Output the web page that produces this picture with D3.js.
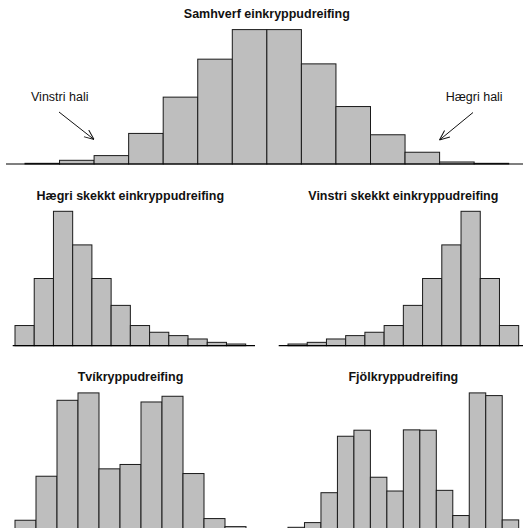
<!DOCTYPE html>
<html>
<head>
<meta charset="utf-8">
<script src="https://cdn.jsdelivr.net/npm/d3@7"></script>
<style>
  html, body { margin: 0; padding: 0; background: #fff; }
  svg { display: block; font-family: 'Liberation Sans', Arial, sans-serif; }
</style>
</head>
<body>
<svg id="chart" width="523" height="528"></svg>
<script>
// bin frequencies (common scale, tallest bars ~400)
const symmetric = [2, 11, 25, 91, 199, 312, 400, 400, 298, 171, 87, 35, 6, 2];
const rightSkew = [60, 200, 400, 300, 200, 120, 60, 40, 30, 20, 10, 5];
const leftSkew = [5, 10, 20, 30, 40, 60, 120, 200, 300, 400, 200, 60];
const bimodal = [32, 163, 389, 411, 185, 198, 384, 401, 171, 37, 13];
const multimodal = [11, 25, 114, 282, 300, 160, 119, 301, 300, 121, 46, 411, 403, 33];

const titles = [
  'Samhverf einkryppudreifing',
  'Hægri skekkt einkryppudreifing',
  'Vinstri skekkt einkryppudreifing',
  'Tvíkryppudreifing',
  'Fjölkryppudreifing'
];
const tailLabels = ['Vinstri hali', 'Hægri hali'];

const panels = [
  { values: symmetric, title: titles[0], x0: 25, x1: 508.7, base: 164, line: [6, 523], titleY: 18.3 },
  { values: rightSkew, title: titles[1], x0: 15, x1: 245.7, base: 345.7, line: [12.7, 255], titleY: 200 },
  { values: leftSkew, title: titles[2], x0: 288, x1: 518.7, base: 345.7, line: [278.7, 523], titleY: 200 },
  { values: bimodal, title: titles[3], x0: 15, x1: 246, base: 531, line: [12.7, 255], titleY: 381 },
  { values: multimodal, title: titles[4], x0: 288, x1: 518.7, base: 531, line: [278.7, 523], titleY: 381 }
];

const svg = d3.select('#chart');
const barHeight = 134.4; // pixel height of a 400 count bar

svg.append('defs').append('marker')
  .attr('id', 'arrow')
  .attr('viewBox', '0 0 10 10')
  .attr('refX', 10).attr('refY', 5)
  .attr('markerWidth', 10).attr('markerHeight', 10)
  .attr('markerUnits', 'userSpaceOnUse')
  .attr('orient', 'auto')
  .append('path')
  .attr('d', 'M0,0.8 L10,5 L0,9.2')
  .attr('fill', 'none')
  .attr('stroke', '#111')
  .attr('stroke-width', 1);

panels.forEach(p => {
  const g = svg.append('g');
  const x = d3.scaleBand().domain(d3.range(p.values.length)).range([p.x0, p.x1]).padding(0);
  const y = d3.scaleLinear().domain([0, 400]).range([p.base, p.base - barHeight]);

  g.selectAll('rect').data(p.values).join('rect')
    .attr('x', (d, i) => x(i))
    .attr('y', d => y(d))
    .attr('width', x.bandwidth())
    .attr('height', d => y(0) - y(d))
    .attr('fill', '#bebebe')
    .attr('stroke', '#1a1a1a')
    .attr('stroke-width', 1);

  g.append('line')
    .attr('x1', p.line[0]).attr('x2', p.line[1])
    .attr('y1', y(0)).attr('y2', y(0))
    .attr('stroke', '#000').attr('stroke-width', 1.2);

  g.append('text')
    .attr('x', (p.x0 + p.x1) / 2)
    .attr('y', p.titleY)
    .attr('text-anchor', 'middle')
    .attr('font-size', '12.5px')
    .attr('font-weight', 'bold')
    .attr('fill', '#111')
    .text(p.title);
});

// tail annotations on the symmetric histogram
const notes = [
  { text: tailLabels[0], tx: 31, ty: 101, from: [59, 112], to: [94, 139.5] },
  { text: tailLabels[1], tx: 445.7, ty: 101, from: [473, 112.5], to: [439.5, 140] }
];
notes.forEach(n => {
  svg.append('text')
    .attr('x', n.tx).attr('y', n.ty)
    .attr('font-size', '12.5px')
    .attr('fill', '#111')
    .text(n.text);
  svg.append('line')
    .attr('x1', n.from[0]).attr('y1', n.from[1])
    .attr('x2', n.to[0]).attr('y2', n.to[1])
    .attr('stroke', '#111').attr('stroke-width', 1)
    .attr('marker-end', 'url(#arrow)');
});
</script>
</body>
</html>
